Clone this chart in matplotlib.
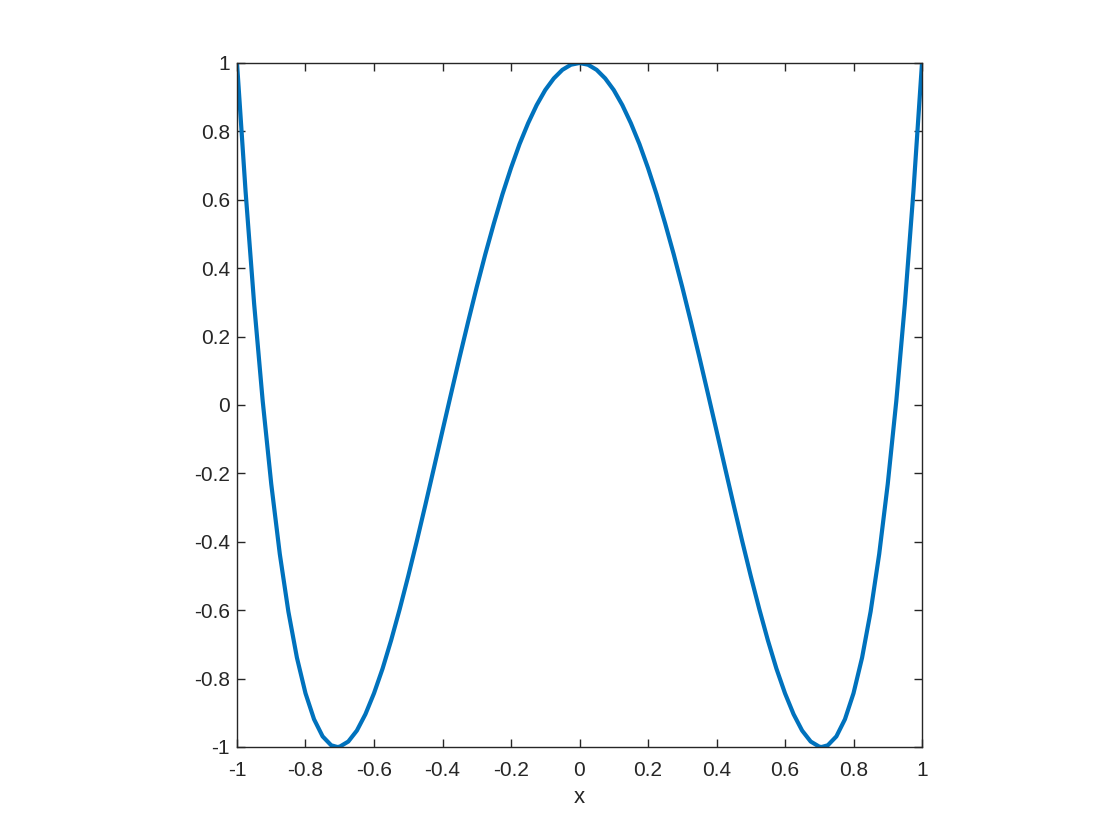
import matplotlib.pyplot as plt

# values, x step 0.025
x_vals = [
    -1.0, -0.975, -0.95, -0.925, -0.9, -0.875, -0.85, -0.825, -0.8, -0.775,
    -0.75, -0.725, -0.7071, -0.7, -0.675, -0.65, -0.625, -0.6, -0.575, -0.55,
    -0.525, -0.5, -0.475, -0.45, -0.425, -0.4, -0.375, -0.35, -0.325, -0.3,
    -0.275, -0.25, -0.225, -0.2, -0.175, -0.15, -0.125, -0.1, -0.075, -0.05,
    -0.025, 0.0, 0.025, 0.05, 0.075, 0.1, 0.125, 0.15, 0.175, 0.2,
    0.225, 0.25, 0.275, 0.3, 0.325, 0.35, 0.375, 0.4, 0.425, 0.45,
    0.475, 0.5, 0.525, 0.55, 0.575, 0.6, 0.625, 0.65, 0.675, 0.7,
    0.7071, 0.725, 0.75, 0.775, 0.8, 0.825, 0.85, 0.875, 0.9, 0.925,
    0.95, 0.975, 1.0,
]
y_vals = [
    1.0, 0.625, 0.296, 0.012, -0.231, -0.436, -0.604, -0.739, -0.843, -0.919,
    -0.969, -0.995, -1.0, -0.999, -0.984, -0.952, -0.904, -0.843, -0.771, -0.688,
    -0.597, -0.5, -0.398, -0.292, -0.184, -0.075, 0.033, 0.140, 0.244, 0.345,
    0.441, 0.531, 0.616, 0.693, 0.763, 0.824, 0.877, 0.921, 0.955, 0.980,
    0.995, 1.0, 0.995, 0.980, 0.955, 0.921, 0.877, 0.824, 0.763, 0.693,
    0.616, 0.531, 0.441, 0.345, 0.244, 0.140, 0.033, -0.075, -0.184, -0.292,
    -0.398, -0.5, -0.597, -0.688, -0.771, -0.843, -0.904, -0.952, -0.984, -0.999,
    -1.0, -0.995, -0.969, -0.919, -0.843, -0.739, -0.604, -0.436, -0.231, 0.012,
    0.296, 0.625, 1.0,
]
x_ticks = [-1, -0.8, -0.6, -0.4, -0.2, 0, 0.2, 0.4, 0.6, 0.8, 1]
y_ticks = [-1, -0.8, -0.6, -0.4, -0.2, 0, 0.2, 0.4, 0.6, 0.8, 1]
tick_labels = ['-1', '-0.8', '-0.6', '-0.4', '-0.2', '0', '0.2', '0.4', '0.6', '0.8', '1']

plt.rcParams['font.family'] = ['Liberation Sans', 'DejaVu Sans']

fig = plt.figure(figsize=(11.2, 8.4), dpi=100)
ax = fig.add_axes([237 / 1120, 1 - 747 / 840, 685 / 1120, 684 / 840])
ax.plot(x_vals, y_vals, color='#0072BD', linewidth=3.0,
        solid_joinstyle='round', solid_capstyle='butt')

ax.set_xlim(-1, 1)
ax.set_ylim(-1, 1)
ax.set_xticks(x_ticks)
ax.set_xticklabels(tick_labels)
ax.set_yticks(y_ticks)
ax.set_yticklabels(tick_labels)
ax.tick_params(direction='in', top=True, right=True, length=6, width=1.0,
               color='#262626', labelcolor='#262626', labelsize=15)
ax.tick_params(axis='x', pad=10)
ax.tick_params(axis='y', pad=5)
for s in ax.spines.values():
    s.set_color('#262626')
    s.set_linewidth(1.0)
ax.set_xlabel('x', fontsize=16, color='#262626', labelpad=5)

fig.savefig('out.png', dpi=100)
